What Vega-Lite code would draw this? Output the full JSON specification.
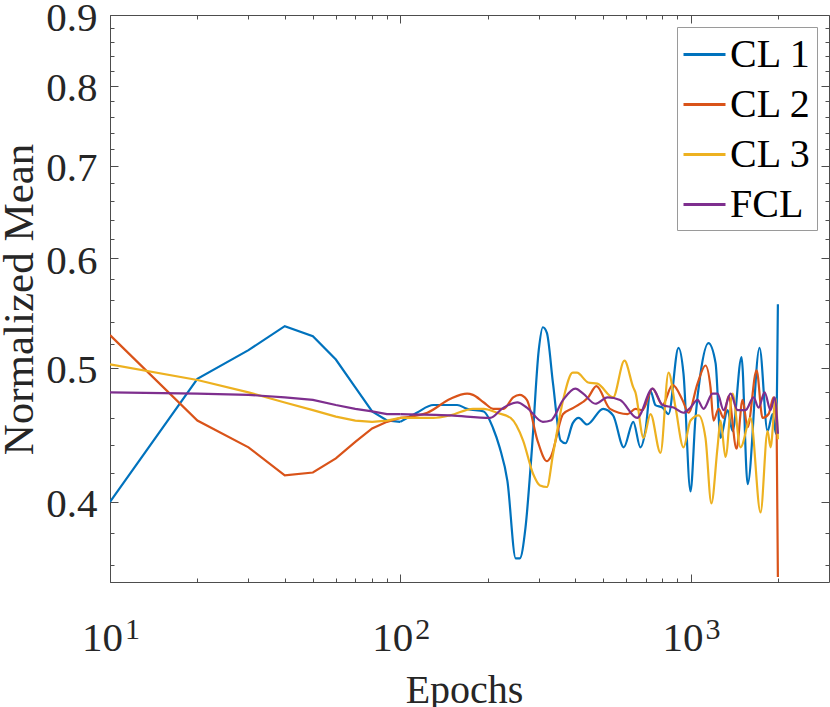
{
  "$schema": "https://vega.github.io/schema/vega-lite/v6.json",
  "width": 719,
  "height": 567,
  "autosize": {"type": "none"},
  "padding": {"left": 110, "top": 15, "right": 1, "bottom": 125},
  "background": "white",
  "config": {
    "font": "Liberation Serif",
    "view": {"stroke": "#4d4d4d", "strokeWidth": 1},
    "axis": {
      "domain": false,
      "grid": false,
      "tickColor": "#4d4d4d",
      "tickWidth": 1,
      "labelColor": "#262626",
      "titleColor": "#262626",
      "labelFont": "Liberation Serif",
      "titleFont": "Liberation Serif",
      "labelFontSize": 41,
      "titleFontSize": 40,
      "titleFontWeight": "normal",
      "labelFlush": false,
      "labelOverlap": false,
      "labelBound": false
    }
  },
  "data": {
    "values": [
      {"epoch": 10, "series": "CL 1", "value": 0.400},
      {"epoch": 20, "series": "CL 1", "value": 0.491},
      {"epoch": 30, "series": "CL 1", "value": 0.515},
      {"epoch": 40, "series": "CL 1", "value": 0.536},
      {"epoch": 50, "series": "CL 1", "value": 0.527},
      {"epoch": 60, "series": "CL 1", "value": 0.507},
      {"epoch": 70, "series": "CL 1", "value": 0.484},
      {"epoch": 80, "series": "CL 1", "value": 0.465},
      {"epoch": 90, "series": "CL 1", "value": 0.458},
      {"epoch": 100, "series": "CL 1", "value": 0.457},
      {"epoch": 114, "series": "CL 1", "value": 0.464},
      {"epoch": 130, "series": "CL 1", "value": 0.470},
      {"epoch": 157, "series": "CL 1", "value": 0.470},
      {"epoch": 170, "series": "CL 1", "value": 0.467},
      {"epoch": 194, "series": "CL 1", "value": 0.465},
      {"epoch": 209, "series": "CL 1", "value": 0.452},
      {"epoch": 220, "series": "CL 1", "value": 0.438},
      {"epoch": 234, "series": "CL 1", "value": 0.414},
      {"epoch": 250, "series": "CL 1", "value": 0.364},
      {"epoch": 258, "series": "CL 1", "value": 0.364},
      {"epoch": 270, "series": "CL 1", "value": 0.383},
      {"epoch": 284, "series": "CL 1", "value": 0.436},
      {"epoch": 300, "series": "CL 1", "value": 0.515},
      {"epoch": 310, "series": "CL 1", "value": 0.535},
      {"epoch": 320, "series": "CL 1", "value": 0.530},
      {"epoch": 336, "series": "CL 1", "value": 0.487},
      {"epoch": 357, "series": "CL 1", "value": 0.443},
      {"epoch": 371, "series": "CL 1", "value": 0.441},
      {"epoch": 393, "series": "CL 1", "value": 0.456},
      {"epoch": 412, "series": "CL 1", "value": 0.460},
      {"epoch": 440, "series": "CL 1", "value": 0.455},
      {"epoch": 500, "series": "CL 1", "value": 0.467},
      {"epoch": 541, "series": "CL 1", "value": 0.462},
      {"epoch": 589, "series": "CL 1", "value": 0.438},
      {"epoch": 635, "series": "CL 1", "value": 0.457},
      {"epoch": 672, "series": "CL 1", "value": 0.438},
      {"epoch": 699, "series": "CL 1", "value": 0.450},
      {"epoch": 728, "series": "CL 1", "value": 0.481},
      {"epoch": 757, "series": "CL 1", "value": 0.470},
      {"epoch": 801, "series": "CL 1", "value": 0.468},
      {"epoch": 840, "series": "CL 1", "value": 0.463},
      {"epoch": 909, "series": "CL 1", "value": 0.517},
      {"epoch": 946, "series": "CL 1", "value": 0.495},
      {"epoch": 1000, "series": "CL 1", "value": 0.407},
      {"epoch": 1040, "series": "CL 1", "value": 0.460},
      {"epoch": 1082, "series": "CL 1", "value": 0.495},
      {"epoch": 1153, "series": "CL 1", "value": 0.521},
      {"epoch": 1220, "series": "CL 1", "value": 0.504},
      {"epoch": 1269, "series": "CL 1", "value": 0.445},
      {"epoch": 1342, "series": "CL 1", "value": 0.466},
      {"epoch": 1396, "series": "CL 1", "value": 0.450},
      {"epoch": 1499, "series": "CL 1", "value": 0.509},
      {"epoch": 1573, "series": "CL 1", "value": 0.412},
      {"epoch": 1729, "series": "CL 1", "value": 0.517},
      {"epoch": 1843, "series": "CL 1", "value": 0.450},
      {"epoch": 1918, "series": "CL 1", "value": 0.463},
      {"epoch": 1970, "series": "CL 1", "value": 0.448},
      {"epoch": 2000, "series": "CL 1", "value": 0.556},

      {"epoch": 10, "series": "CL 2", "value": 0.528},
      {"epoch": 20, "series": "CL 2", "value": 0.458},
      {"epoch": 30, "series": "CL 2", "value": 0.438},
      {"epoch": 40, "series": "CL 2", "value": 0.418},
      {"epoch": 50, "series": "CL 2", "value": 0.420},
      {"epoch": 60, "series": "CL 2", "value": 0.430},
      {"epoch": 70, "series": "CL 2", "value": 0.442},
      {"epoch": 80, "series": "CL 2", "value": 0.452},
      {"epoch": 90, "series": "CL 2", "value": 0.457},
      {"epoch": 100, "series": "CL 2", "value": 0.460},
      {"epoch": 124, "series": "CL 2", "value": 0.464},
      {"epoch": 149, "series": "CL 2", "value": 0.475},
      {"epoch": 170, "series": "CL 2", "value": 0.479},
      {"epoch": 178, "series": "CL 2", "value": 0.478},
      {"epoch": 194, "series": "CL 2", "value": 0.472},
      {"epoch": 209, "series": "CL 2", "value": 0.467},
      {"epoch": 227, "series": "CL 2", "value": 0.467},
      {"epoch": 245, "series": "CL 2", "value": 0.476},
      {"epoch": 258, "series": "CL 2", "value": 0.478},
      {"epoch": 273, "series": "CL 2", "value": 0.474},
      {"epoch": 297, "series": "CL 2", "value": 0.443},
      {"epoch": 320, "series": "CL 2", "value": 0.428},
      {"epoch": 330, "series": "CL 2", "value": 0.431},
      {"epoch": 364, "series": "CL 2", "value": 0.463},
      {"epoch": 396, "series": "CL 2", "value": 0.468},
      {"epoch": 444, "series": "CL 2", "value": 0.476},
      {"epoch": 474, "series": "CL 2", "value": 0.485},
      {"epoch": 528, "series": "CL 2", "value": 0.467},
      {"epoch": 607, "series": "CL 2", "value": 0.463},
      {"epoch": 646, "series": "CL 2", "value": 0.467},
      {"epoch": 683, "series": "CL 2", "value": 0.466},
      {"epoch": 740, "series": "CL 2", "value": 0.483},
      {"epoch": 801, "series": "CL 2", "value": 0.470},
      {"epoch": 867, "series": "CL 2", "value": 0.486},
      {"epoch": 938, "series": "CL 2", "value": 0.474},
      {"epoch": 984, "series": "CL 2", "value": 0.464},
      {"epoch": 1057, "series": "CL 2", "value": 0.487},
      {"epoch": 1126, "series": "CL 2", "value": 0.502},
      {"epoch": 1172, "series": "CL 2", "value": 0.484},
      {"epoch": 1200, "series": "CL 2", "value": 0.458},
      {"epoch": 1249, "series": "CL 2", "value": 0.467},
      {"epoch": 1300, "series": "CL 2", "value": 0.460},
      {"epoch": 1352, "series": "CL 2", "value": 0.477},
      {"epoch": 1441, "series": "CL 2", "value": 0.437},
      {"epoch": 1511, "series": "CL 2", "value": 0.474},
      {"epoch": 1573, "series": "CL 2", "value": 0.453},
      {"epoch": 1689, "series": "CL 2", "value": 0.498},
      {"epoch": 1771, "series": "CL 2", "value": 0.460},
      {"epoch": 1858, "series": "CL 2", "value": 0.463},
      {"epoch": 1933, "series": "CL 2", "value": 0.476},
      {"epoch": 1980, "series": "CL 2", "value": 0.455},
      {"epoch": 2000, "series": "CL 2", "value": 0.353},

      {"epoch": 10, "series": "CL 3", "value": 0.503},
      {"epoch": 20, "series": "CL 3", "value": 0.490},
      {"epoch": 30, "series": "CL 3", "value": 0.480},
      {"epoch": 40, "series": "CL 3", "value": 0.472},
      {"epoch": 50, "series": "CL 3", "value": 0.466},
      {"epoch": 60, "series": "CL 3", "value": 0.461},
      {"epoch": 70, "series": "CL 3", "value": 0.458},
      {"epoch": 80, "series": "CL 3", "value": 0.457},
      {"epoch": 90, "series": "CL 3", "value": 0.458},
      {"epoch": 100, "series": "CL 3", "value": 0.460},
      {"epoch": 130, "series": "CL 3", "value": 0.460},
      {"epoch": 149, "series": "CL 3", "value": 0.462},
      {"epoch": 178, "series": "CL 3", "value": 0.467},
      {"epoch": 194, "series": "CL 3", "value": 0.467},
      {"epoch": 215, "series": "CL 3", "value": 0.464},
      {"epoch": 240, "series": "CL 3", "value": 0.460},
      {"epoch": 265, "series": "CL 3", "value": 0.443},
      {"epoch": 287, "series": "CL 3", "value": 0.419},
      {"epoch": 303, "series": "CL 3", "value": 0.411},
      {"epoch": 320, "series": "CL 3", "value": 0.410},
      {"epoch": 336, "series": "CL 3", "value": 0.433},
      {"epoch": 364, "series": "CL 3", "value": 0.474},
      {"epoch": 393, "series": "CL 3", "value": 0.496},
      {"epoch": 406, "series": "CL 3", "value": 0.496},
      {"epoch": 444, "series": "CL 3", "value": 0.488},
      {"epoch": 478, "series": "CL 3", "value": 0.487},
      {"epoch": 541, "series": "CL 3", "value": 0.476},
      {"epoch": 592, "series": "CL 3", "value": 0.506},
      {"epoch": 635, "series": "CL 3", "value": 0.484},
      {"epoch": 646, "series": "CL 3", "value": 0.480},
      {"epoch": 689, "series": "CL 3", "value": 0.445},
      {"epoch": 728, "series": "CL 3", "value": 0.463},
      {"epoch": 788, "series": "CL 3", "value": 0.434},
      {"epoch": 840, "series": "CL 3", "value": 0.496},
      {"epoch": 888, "series": "CL 3", "value": 0.468},
      {"epoch": 946, "series": "CL 3", "value": 0.438},
      {"epoch": 1000, "series": "CL 3", "value": 0.458},
      {"epoch": 1066, "series": "CL 3", "value": 0.462},
      {"epoch": 1126, "series": "CL 3", "value": 0.445},
      {"epoch": 1180, "series": "CL 3", "value": 0.399},
      {"epoch": 1239, "series": "CL 3", "value": 0.438},
      {"epoch": 1269, "series": "CL 3", "value": 0.458},
      {"epoch": 1320, "series": "CL 3", "value": 0.431},
      {"epoch": 1396, "series": "CL 3", "value": 0.479},
      {"epoch": 1487, "series": "CL 3", "value": 0.438},
      {"epoch": 1610, "series": "CL 3", "value": 0.460},
      {"epoch": 1743, "series": "CL 3", "value": 0.393},
      {"epoch": 1843, "series": "CL 3", "value": 0.450},
      {"epoch": 1887, "series": "CL 3", "value": 0.438},
      {"epoch": 1964, "series": "CL 3", "value": 0.475},
      {"epoch": 2000, "series": "CL 3", "value": 0.444},

      {"epoch": 10, "series": "FCL", "value": 0.480},
      {"epoch": 20, "series": "FCL", "value": 0.479},
      {"epoch": 30, "series": "FCL", "value": 0.478},
      {"epoch": 40, "series": "FCL", "value": 0.476},
      {"epoch": 50, "series": "FCL", "value": 0.474},
      {"epoch": 60, "series": "FCL", "value": 0.470},
      {"epoch": 70, "series": "FCL", "value": 0.467},
      {"epoch": 80, "series": "FCL", "value": 0.465},
      {"epoch": 90, "series": "FCL", "value": 0.463},
      {"epoch": 100, "series": "FCL", "value": 0.463},
      {"epoch": 149, "series": "FCL", "value": 0.462},
      {"epoch": 204, "series": "FCL", "value": 0.460},
      {"epoch": 227, "series": "FCL", "value": 0.468},
      {"epoch": 253, "series": "FCL", "value": 0.472},
      {"epoch": 273, "series": "FCL", "value": 0.468},
      {"epoch": 310, "series": "FCL", "value": 0.457},
      {"epoch": 330, "series": "FCL", "value": 0.458},
      {"epoch": 364, "series": "FCL", "value": 0.474},
      {"epoch": 401, "series": "FCL", "value": 0.483},
      {"epoch": 427, "series": "FCL", "value": 0.479},
      {"epoch": 470, "series": "FCL", "value": 0.471},
      {"epoch": 518, "series": "FCL", "value": 0.476},
      {"epoch": 572, "series": "FCL", "value": 0.474},
      {"epoch": 655, "series": "FCL", "value": 0.460},
      {"epoch": 740, "series": "FCL", "value": 0.483},
      {"epoch": 801, "series": "FCL", "value": 0.470},
      {"epoch": 874, "series": "FCL", "value": 0.468},
      {"epoch": 946, "series": "FCL", "value": 0.464},
      {"epoch": 1000, "series": "FCL", "value": 0.468},
      {"epoch": 1057, "series": "FCL", "value": 0.474},
      {"epoch": 1109, "series": "FCL", "value": 0.467},
      {"epoch": 1191, "series": "FCL", "value": 0.479},
      {"epoch": 1239, "series": "FCL", "value": 0.479},
      {"epoch": 1300, "series": "FCL", "value": 0.466},
      {"epoch": 1374, "series": "FCL", "value": 0.479},
      {"epoch": 1453, "series": "FCL", "value": 0.466},
      {"epoch": 1548, "series": "FCL", "value": 0.466},
      {"epoch": 1649, "series": "FCL", "value": 0.476},
      {"epoch": 1716, "series": "FCL", "value": 0.468},
      {"epoch": 1800, "series": "FCL", "value": 0.480},
      {"epoch": 1887, "series": "FCL", "value": 0.466},
      {"epoch": 1949, "series": "FCL", "value": 0.476},
      {"epoch": 2000, "series": "FCL", "value": 0.448}
    ]
  },
  "layer": [
    {
      "transform": [{"filter": "datum.epoch <= 100"}],
      "mark": {"type": "line", "strokeWidth": 2.2, "interpolate": "linear", "clip": true},
      "encoding": {
        "x": {
          "field": "epoch",
          "type": "quantitative",
          "scale": {"type": "log", "domain": [10, 3000], "nice": false},
          "axis": {
            "orient": "bottom",
            "values": [10, 100, 1000],
            "tickSize": -8,
            "labelExpr": "'10'",
            "labelOffset": -8,
            "labelPadding": 76,
            "labelBaseline": "alphabetic",
            "title": "Epochs",
            "titleX": 354,
            "titleY": 120,
            "titleAlign": "center",
            "titleBaseline": "alphabetic"
          }
        },
        "y": {
          "field": "value",
          "type": "quantitative",
          "scale": {"type": "log", "domain": [0.35, 0.9], "nice": false},
          "axis": {
            "orient": "left",
            "values": [0.4, 0.5, 0.6, 0.7, 0.8, 0.9],
            "format": ".1f",
            "tickSize": -8,
            "labelPadding": 21,
            "labelOffset": 3,
            "title": "Normalized Mean",
            "titleFontSize": 43,
            "titleAngle": -90,
            "titleX": -78,
            "titleY": 284,
            "titleAlign": "center",
            "titleBaseline": "alphabetic"
          }
        },
        "color": {
          "field": "series",
          "type": "nominal",
          "scale": {
            "domain": ["CL 1", "CL 2", "CL 3", "FCL"],
            "range": ["#0072BD", "#D95319", "#EDB120", "#7E2F8E"]
          },
          "legend": {
            "title": null,
            "orient": "top-right",
            "offset": 12,
            "symbolType": "stroke",
            "symbolSize": 1764,
            "symbolStrokeWidth": 3,
            "labelFont": "Liberation Serif",
            "labelFontSize": 40,
            "labelColor": "#000000",
            "labelOffset": 3,
            "labelLimit": 300,
            "rowPadding": 7,
            "padding": 5,
            "fillColor": "white",
            "strokeColor": "#9a9a9a"
          }
        }
      }
    },
    {
      "transform": [{"filter": "datum.epoch >= 100"}],
      "mark": {"type": "line", "strokeWidth": 2.2, "interpolate": "monotone", "clip": true},
      "encoding": {
        "x": {
          "field": "epoch",
          "type": "quantitative",
          "scale": {"type": "log", "domain": [10, 3000], "nice": false},
          "axis": {
            "orient": "bottom",
            "values": [10, 20, 30, 40, 50, 60, 70, 80, 90, 100, 200, 300, 400, 500, 600, 700, 800, 900, 1000, 2000],
            "tickSize": -4,
            "labelExpr": "datum.value == 10 ? '1' : datum.value == 100 ? '2' : datum.value == 1000 ? '3' : ''",
            "labelFontSize": 30,
            "labelOffset": 22,
            "labelPadding": 60,
            "labelBaseline": "alphabetic",
            "title": null
          }
        },
        "y": {
          "field": "value",
          "type": "quantitative",
          "scale": {"type": "log", "domain": [0.35, 0.9], "nice": false},
          "axis": {
            "orient": "left",
            "values": [0.36, 0.38, 0.42, 0.44, 0.46, 0.48, 0.52, 0.54, 0.56, 0.58, 0.62, 0.64, 0.66, 0.68, 0.72, 0.74, 0.76, 0.78, 0.82, 0.84, 0.86, 0.88],
            "tickSize": -4,
            "labels": false,
            "title": null
          }
        },
        "color": {
          "field": "series",
          "type": "nominal",
          "scale": {
            "domain": ["CL 1", "CL 2", "CL 3", "FCL"],
            "range": ["#0072BD", "#D95319", "#EDB120", "#7E2F8E"]
          }
        }
      }
    },
    {
      "mark": {"type": "point", "opacity": 0},
      "encoding": {
        "x": {
          "field": "epoch",
          "type": "quantitative",
          "scale": {"type": "log", "domain": [10, 3000], "nice": false},
          "axis": {"orient": "top", "values": [10, 100, 1000], "tickSize": -8, "labels": false, "title": null}
        },
        "y": {
          "field": "value",
          "type": "quantitative",
          "scale": {"type": "log", "domain": [0.35, 0.9], "nice": false},
          "axis": {"orient": "right", "values": [0.4, 0.5, 0.6, 0.7, 0.8, 0.9], "tickSize": -8, "labels": false, "title": null}
        }
      }
    },
    {
      "mark": {"type": "point", "opacity": 0},
      "encoding": {
        "x": {
          "field": "epoch",
          "type": "quantitative",
          "scale": {"type": "log", "domain": [10, 3000], "nice": false},
          "axis": {
            "orient": "top",
            "values": [20, 30, 40, 50, 60, 70, 80, 90, 200, 300, 400, 500, 600, 700, 800, 900, 2000],
            "tickSize": -4,
            "labels": false,
            "title": null
          }
        },
        "y": {
          "field": "value",
          "type": "quantitative",
          "scale": {"type": "log", "domain": [0.35, 0.9], "nice": false},
          "axis": {
            "orient": "right",
            "values": [0.36, 0.38, 0.42, 0.44, 0.46, 0.48, 0.52, 0.54, 0.56, 0.58, 0.62, 0.64, 0.66, 0.68, 0.72, 0.74, 0.76, 0.78, 0.82, 0.84, 0.86, 0.88],
            "tickSize": -4,
            "labels": false,
            "title": null
          }
        }
      }
    }
  ],
  "resolve": {"axis": {"x": "independent", "y": "independent"}}
}
